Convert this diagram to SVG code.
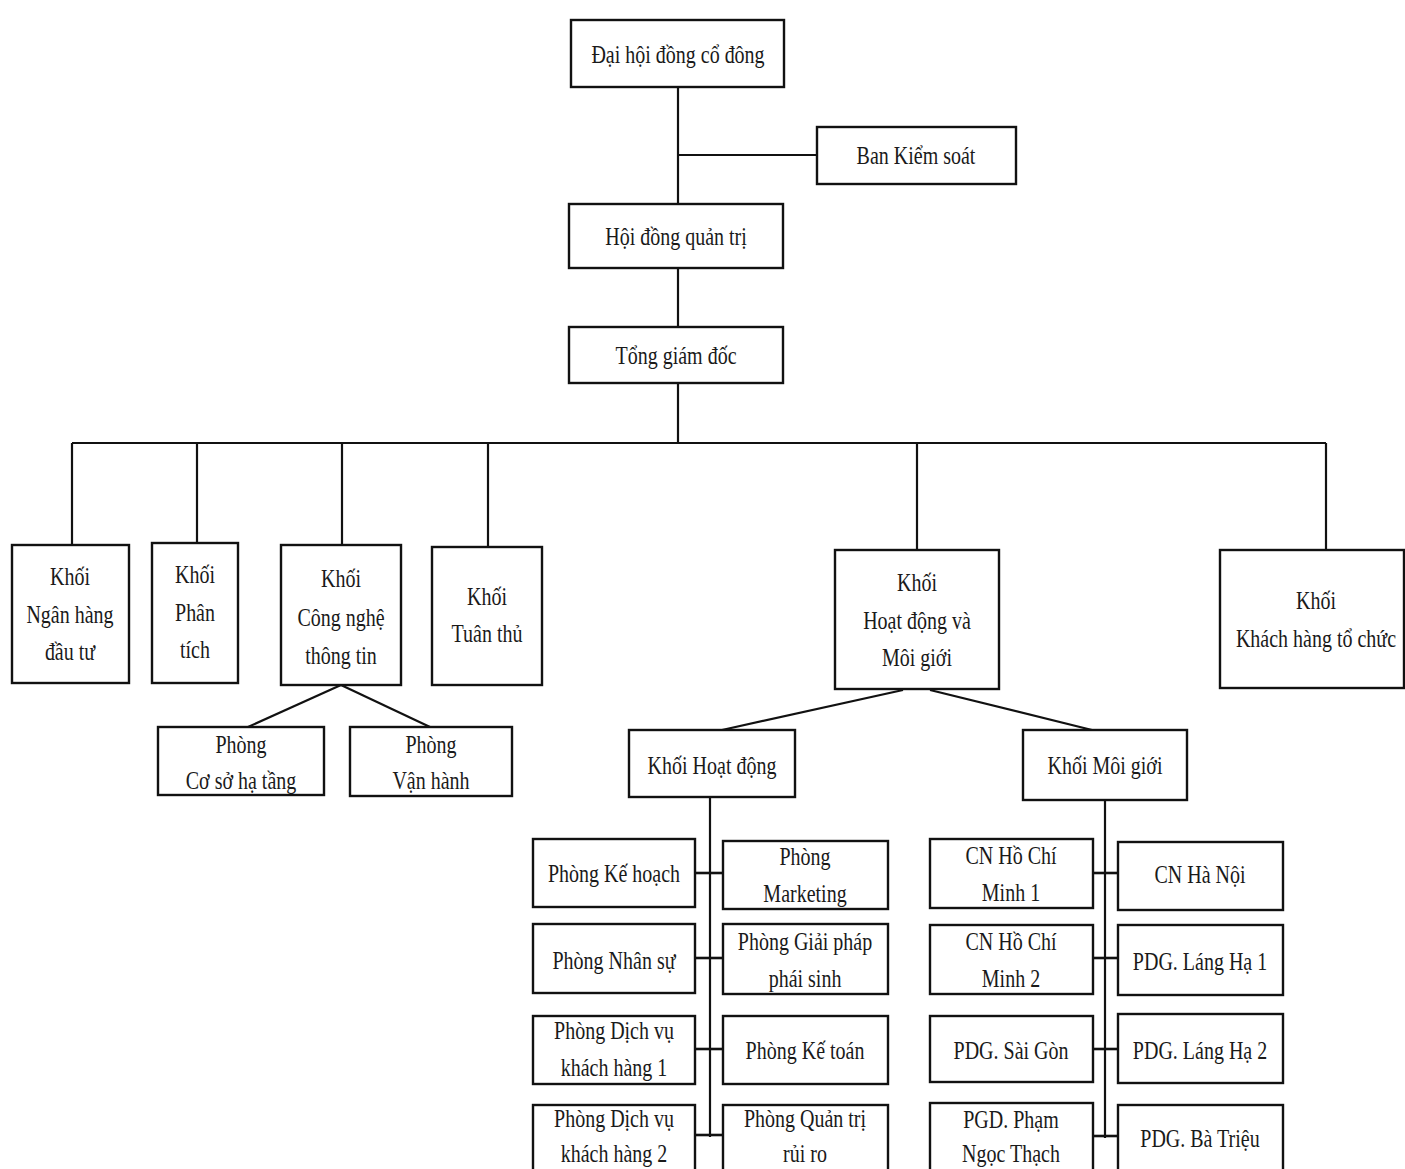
<svg xmlns="http://www.w3.org/2000/svg" width="1405" height="1169" viewBox="0 0 1405 1169">
<style>
.box{fill:#fff;stroke:#111;stroke-width:2.4}
.ln{stroke:#111;stroke-width:2.2;fill:none}
.tie{stroke:#111;stroke-width:2.6;fill:none}
text{font-family:"Liberation Serif","DejaVu Serif",serif;font-size:25px;fill:#1a1a1a;text-anchor:middle}
</style>
<rect width="1405" height="1169" fill="#fff"/>
<g id="connectors">
<line class="ln" x1="678" y1="87" x2="678" y2="204"/>
<line class="ln" x1="678" y1="155" x2="817" y2="155" stroke-width="2.8"/>
<line class="ln" x1="678" y1="268" x2="678" y2="327"/>
<line class="ln" x1="678" y1="383" x2="678" y2="443"/>
<line class="ln" x1="72" y1="443" x2="1326" y2="443" stroke-width="2.8"/>
<line class="ln" x1="72" y1="443" x2="72" y2="545"/>
<line class="ln" x1="197" y1="443" x2="197" y2="543"/>
<line class="ln" x1="342" y1="443" x2="342" y2="545"/>
<line class="ln" x1="488" y1="443" x2="488" y2="547"/>
<line class="ln" x1="917" y1="443" x2="917" y2="550"/>
<line class="ln" x1="1326" y1="443" x2="1326" y2="550"/>
<line class="ln" x1="341" y1="685" x2="248" y2="727"/>
<line class="ln" x1="341" y1="685" x2="430" y2="727"/>
<line class="ln" x1="903" y1="690" x2="722" y2="730"/>
<line class="ln" x1="930" y1="690" x2="1092" y2="730"/>
<line class="ln" x1="710" y1="797" x2="710" y2="1137"/>
<line class="tie" x1="695" y1="873" x2="723" y2="873"/>
<line class="tie" x1="695" y1="958" x2="723" y2="958"/>
<line class="tie" x1="695" y1="1049" x2="723" y2="1049"/>
<line class="tie" x1="695" y1="1135" x2="723" y2="1135"/>
<line class="ln" x1="1105" y1="800" x2="1105" y2="1138"/>
<line class="tie" x1="1093" y1="873" x2="1118" y2="873"/>
<line class="tie" x1="1093" y1="958" x2="1118" y2="958"/>
<line class="tie" x1="1093" y1="1049" x2="1118" y2="1049"/>
<line class="tie" x1="1093" y1="1136" x2="1118" y2="1136"/>
</g>
<g id="dhdcd"><rect class="box" x="571" y="20" width="213" height="67"/><text transform="translate(678,63) scale(0.8,1)">Đại hội đồng cổ đông</text></g>
<g id="bks"><rect class="box" x="817" y="127" width="199" height="57"/><text transform="translate(916,164) scale(0.8,1)">Ban Kiểm soát</text></g>
<g id="hdqt"><rect class="box" x="569" y="204" width="214" height="64"/><text transform="translate(676,245) scale(0.8,1)">Hội đồng quản trị</text></g>
<g id="tgd"><rect class="box" x="569" y="327" width="214" height="56"/><text transform="translate(676,364) scale(0.8,1)">Tổng giám đốc</text></g>
<g id="k-nhdt"><rect class="box" x="12" y="545" width="117" height="138"/><text transform="translate(70,585) scale(0.8,1)"><tspan x="0">Khối</tspan><tspan x="0" dy="38">Ngân hàng</tspan><tspan x="0" dy="37">đầu tư</tspan></text></g>
<g id="k-pt"><rect class="box" x="152" y="543" width="86" height="140"/><text transform="translate(195,583) scale(0.8,1)"><tspan x="0">Khối</tspan><tspan x="0" dy="38">Phân</tspan><tspan x="0" dy="37">tích</tspan></text></g>
<g id="k-cntt"><rect class="box" x="281" y="545" width="120" height="140"/><text transform="translate(341,587) scale(0.8,1)"><tspan x="0">Khối</tspan><tspan x="0" dy="39">Công nghệ</tspan><tspan x="0" dy="38">thông tin</tspan></text></g>
<g id="k-tt"><rect class="box" x="432" y="547" width="110" height="138"/><text transform="translate(487,605) scale(0.8,1)"><tspan x="0">Khối</tspan><tspan x="0" dy="37">Tuân thủ</tspan></text></g>
<g id="k-hdmg"><rect class="box" x="835" y="550" width="164" height="139"/><text transform="translate(917,591) scale(0.8,1)"><tspan x="0">Khối</tspan><tspan x="0" dy="38">Hoạt động và</tspan><tspan x="0" dy="37">Môi giới</tspan></text></g>
<g id="k-khtc"><rect class="box" x="1220" y="550" width="184" height="138"/><text transform="translate(1316,609) scale(0.8,1)"><tspan x="0">Khối</tspan><tspan x="0" dy="38">Khách hàng tổ chức</tspan></text></g>
<g id="p-csht"><rect class="box" x="158" y="727" width="166" height="68"/><text transform="translate(241,753) scale(0.8,1)"><tspan x="0">Phòng</tspan><tspan x="0" dy="36">Cơ sở hạ tầng</tspan></text></g>
<g id="p-vh"><rect class="box" x="350" y="727" width="162" height="69"/><text transform="translate(431,753) scale(0.8,1)"><tspan x="0">Phòng</tspan><tspan x="0" dy="36">Vận hành</tspan></text></g>
<g id="k-hd"><rect class="box" x="629" y="730" width="166" height="67"/><text transform="translate(712,774) scale(0.8,1)">Khối Hoạt động</text></g>
<g id="k-mg"><rect class="box" x="1023" y="730" width="164" height="70"/><text transform="translate(1105,774) scale(0.8,1)">Khối Môi giới</text></g>
<g id="p-kh"><rect class="box" x="533" y="839" width="162" height="68"/><text transform="translate(614,882) scale(0.8,1)">Phòng Kế hoạch</text></g>
<g id="p-mkt"><rect class="box" x="723" y="841" width="165" height="68"/><text transform="translate(805,865) scale(0.8,1)"><tspan x="0">Phòng</tspan><tspan x="0" dy="37">Marketing</tspan></text></g>
<g id="p-ns"><rect class="box" x="533" y="924" width="162" height="69"/><text transform="translate(614,969) scale(0.8,1)">Phòng Nhân sự</text></g>
<g id="p-gpps"><rect class="box" x="723" y="924" width="165" height="70"/><text transform="translate(805,950) scale(0.8,1)"><tspan x="0">Phòng Giải pháp</tspan><tspan x="0" dy="37">phái sinh</tspan></text></g>
<g id="p-dvkh1"><rect class="box" x="533" y="1016" width="162" height="68"/><text transform="translate(614,1039) scale(0.8,1)"><tspan x="0">Phòng Dịch vụ</tspan><tspan x="0" dy="37">khách hàng 1</tspan></text></g>
<g id="p-kt"><rect class="box" x="723" y="1016" width="165" height="68"/><text transform="translate(805,1059) scale(0.8,1)">Phòng Kế toán</text></g>
<g id="p-dvkh2"><rect class="box" x="533" y="1105" width="162" height="80"/><text transform="translate(614,1127) scale(0.8,1)"><tspan x="0">Phòng Dịch vụ</tspan><tspan x="0" dy="35">khách hàng 2</tspan></text></g>
<g id="p-qtrr"><rect class="box" x="723" y="1105" width="165" height="80"/><text transform="translate(805,1127) scale(0.8,1)"><tspan x="0">Phòng Quản trị</tspan><tspan x="0" dy="35">rủi ro</tspan></text></g>
<g id="cn-hcm1"><rect class="box" x="930" y="839" width="163" height="69"/><text transform="translate(1011,864) scale(0.8,1)"><tspan x="0">CN Hồ Chí</tspan><tspan x="0" dy="37">Minh 1</tspan></text></g>
<g id="cn-hn"><rect class="box" x="1118" y="842" width="165" height="68"/><text transform="translate(1200,883) scale(0.8,1)">CN Hà Nội</text></g>
<g id="cn-hcm2"><rect class="box" x="930" y="925" width="163" height="69"/><text transform="translate(1011,950) scale(0.8,1)"><tspan x="0">CN Hồ Chí</tspan><tspan x="0" dy="37">Minh 2</tspan></text></g>
<g id="pdg-lh1"><rect class="box" x="1118" y="925" width="165" height="70"/><text transform="translate(1200,970) scale(0.8,1)">PDG. Láng Hạ 1</text></g>
<g id="pdg-sg"><rect class="box" x="930" y="1016" width="163" height="66"/><text transform="translate(1011,1059) scale(0.8,1)">PDG. Sài Gòn</text></g>
<g id="pdg-lh2"><rect class="box" x="1118" y="1014" width="165" height="69"/><text transform="translate(1200,1059) scale(0.8,1)">PDG. Láng Hạ 2</text></g>
<g id="pgd-pnt"><rect class="box" x="930" y="1103" width="163" height="82"/><text transform="translate(1011,1128) scale(0.8,1)"><tspan x="0">PGD. Phạm</tspan><tspan x="0" dy="34">Ngọc Thạch</tspan></text></g>
<g id="pdg-bt"><rect class="box" x="1118" y="1105" width="165" height="80"/><text transform="translate(1200,1147) scale(0.8,1)">PDG. Bà Triệu</text></g>
</svg>
